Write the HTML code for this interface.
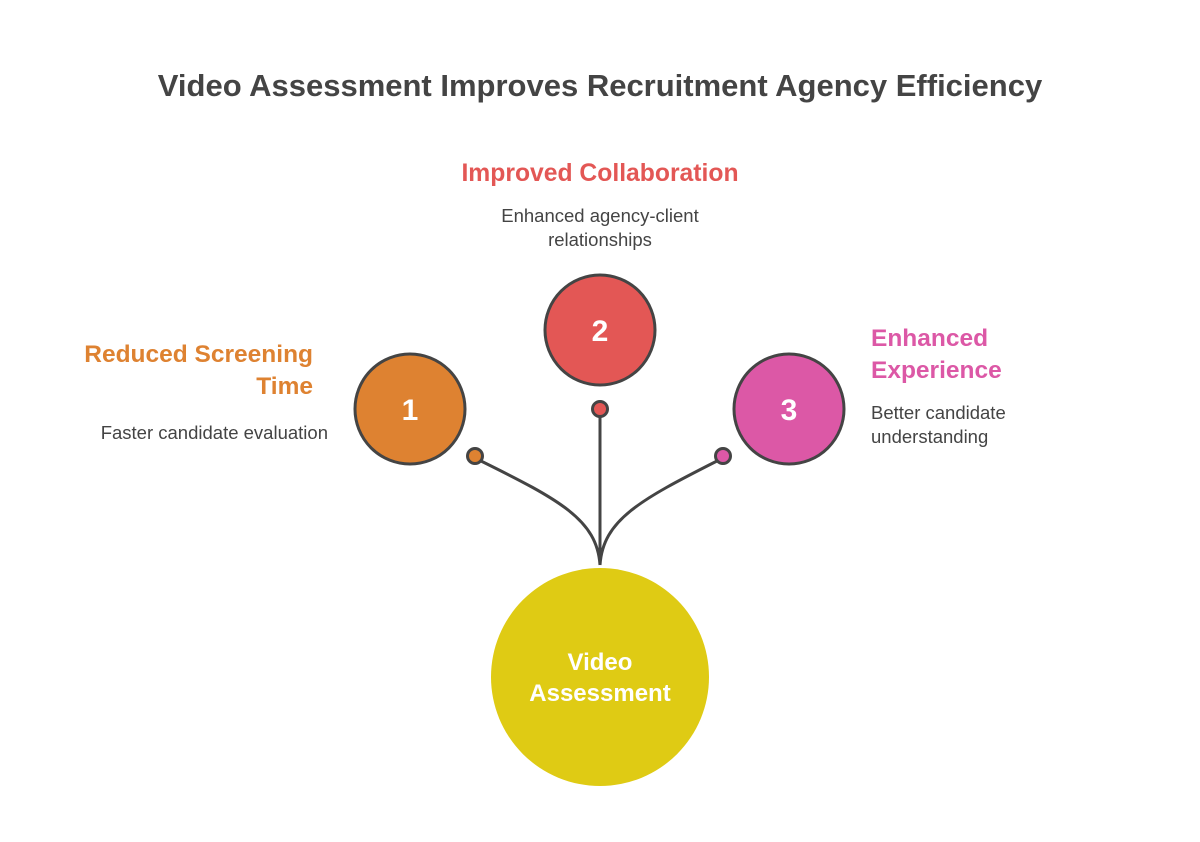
<!DOCTYPE html>
<html><head><meta charset="utf-8"><style>
body{margin:0;background:#fff;width:1200px;height:837px;overflow:hidden;font-family:"Liberation Sans",sans-serif}
</style></head><body>
<svg width="1200" height="837" xmlns="http://www.w3.org/2000/svg" font-family="Liberation Sans, sans-serif">
<text x="600" y="96" text-anchor="middle" font-size="31" font-weight="bold" fill="#444">Video Assessment Improves Recruitment Agency Efficiency</text>
<text x="600" y="181" text-anchor="middle" font-size="24.7" font-weight="bold" fill="#e35755">Improved Collaboration</text>
<text x="600" y="222" text-anchor="middle" font-size="18.5" fill="#444">Enhanced agency-client</text>
<text x="600" y="246" text-anchor="middle" font-size="18.5" fill="#444">relationships</text>
<text x="313" y="362" text-anchor="end" font-size="24.5" font-weight="bold" fill="#de8231">Reduced Screening</text>
<text x="313" y="394" text-anchor="end" font-size="24.5" font-weight="bold" fill="#de8231">Time</text>
<text x="328" y="439" text-anchor="end" font-size="18.5" fill="#444">Faster candidate evaluation</text>
<text x="871" y="346" font-size="24.5" font-weight="bold" fill="#dc58a6">Enhanced</text>
<text x="871" y="378" font-size="24.5" font-weight="bold" fill="#dc58a6">Experience</text>
<text x="871" y="419" font-size="18.5" fill="#444">Better candidate</text>
<text x="871" y="443" font-size="18.5" fill="#444">understanding</text>
<g fill="none" stroke="#444" stroke-width="3">
<path d="M481 461 C560 500 597 520 600 565"/>
<path d="M600 417 L600 565"/>
<path d="M717 461 C640 500 603 520 600 565"/>
</g>
<circle cx="600" cy="677" r="109" fill="#dfcb14"/>
<text x="600" y="670" text-anchor="middle" font-size="24" font-weight="bold" fill="#fff">Video</text>
<text x="600" y="701" text-anchor="middle" font-size="24" font-weight="bold" fill="#fff">Assessment</text>
<g stroke="#444" stroke-width="3">
<circle cx="410" cy="409" r="55" fill="#de8231"/>
<circle cx="600" cy="330" r="55" fill="#e35755"/>
<circle cx="789" cy="409" r="55" fill="#dc58a6"/>
<circle cx="475" cy="456" r="7.5" fill="#de8231"/>
<circle cx="600" cy="409" r="7.5" fill="#e35755"/>
<circle cx="723" cy="456" r="7.5" fill="#dc58a6"/>
</g>
<g font-size="30" font-weight="bold" fill="#fff" text-anchor="middle">
<text x="410" y="420">1</text><text x="600" y="341">2</text><text x="789" y="420">3</text>
</g>
</svg>
</body></html>
